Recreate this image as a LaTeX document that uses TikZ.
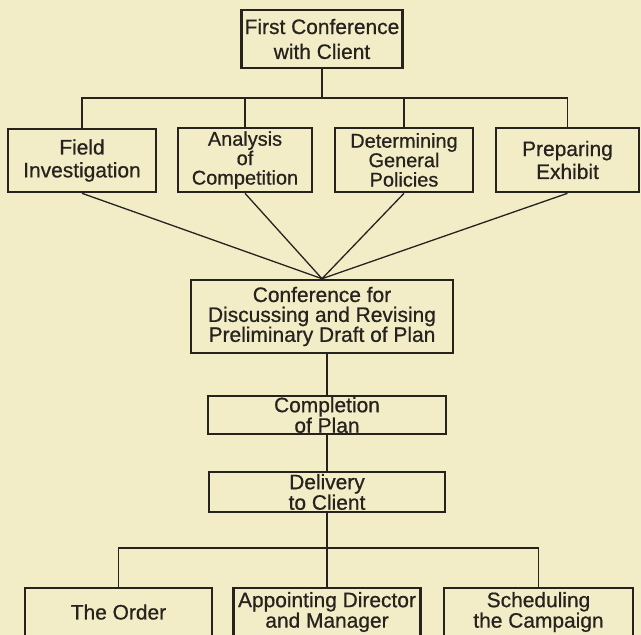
\documentclass[tikz,border=0pt]{standalone}
\usepackage{fontspec}
\setmainfont{Liberation Sans}[BoldFont=Liberation Sans, BoldFeatures={FakeBold=0.7}]
\definecolor{paper}{RGB}{243,237,199}
\definecolor{ink}{RGB}{38,34,30}

\begin{document}
\begin{tikzpicture}[x=1bp,y=-1bp,
  box/.style={draw=ink, line width=2.6bp, inner xsep=2bp, inner ysep=1bp, align=center, text=ink, font=\fontsize{21}{19}\selectfont\bfseries},
  tight/.style={font=\fontsize{20}{19.5}\selectfont\bfseries},
  wide/.style={font=\fontsize{21}{23}\selectfont\bfseries},
  link/.style={draw=ink, line width=1.3bp}]
\useasboundingbox (0,0) rectangle (641,635);
\fill[paper] (0,0) rectangle (641,635);
\clip (0,0) rectangle (641,635);
\node[box, font=\fontsize{21}{25}\selectfont\bfseries, minimum width=161bp, minimum height=58bp] (first) at (322,39) {First Conference\\with Client};
\node[box, wide, minimum width=148bp, minimum height=63bp] (field) at (82,160.5) {Field\\Investigation};
\node[box, tight, minimum width=134bp, minimum height=64bp] (analysis) at (245,160) {Analysis\\of\\Competition};
\node[box, tight, minimum width=138bp, minimum height=64bp] (policies) at (404,160) {Determining\\General\\Policies};
\node[box, wide, minimum width=143bp, minimum height=64bp] (exhibit) at (567.5,160) {Preparing\\Exhibit};
\node[box, font=\fontsize{21}{20}\selectfont\bfseries, minimum width=262bp, minimum height=73bp] (conf) at (322,316.5) {Conference for\\Discussing and Revising\\Preliminary Draft of Plan};
\node[box, minimum width=238bp, minimum height=36bp] (compl) at (327,415) {Completion\\of Plan};
\node[box, minimum width=236bp, minimum height=40bp] (deliv) at (327,492) {Delivery\\to Client};
\node[box, minimum width=187bp, minimum height=48bp] (order) at (118.5,612) {The Order};
\node[box, minimum width=187bp, minimum height=48bp] (appt) at (327,612) {Appointing Director\\and Manager};
\node[box, minimum width=189bp, minimum height=48bp] (sched) at (538.5,612) {Scheduling\\the Campaign};
\coordinate (topbus) at (322,98);
\coordinate (lowbus) at (327,548);
\draw[link] (first) -- (topbus);
\draw[link] (topbus) -| (field);
\draw[link] (topbus) -| (analysis);
\draw[link] (topbus) -| (policies);
\draw[link] (topbus) -| (exhibit);
\draw[link] (field.south) -- (conf.north);
\draw[link] (analysis.south) -- (conf.north);
\draw[link] (policies.south) -- (conf.north);
\draw[link] (exhibit.south) -- (conf.north);
\draw[link] (conf.south -| compl.north) -- (compl.north);
\draw[link] (compl) -- (deliv);
\draw[link] (deliv) -- (lowbus);
\draw[link] (lowbus) -| (order);
\draw[link] (lowbus) -- (appt);
\draw[link] (lowbus) -| (sched);
\end{tikzpicture}
\end{document}
